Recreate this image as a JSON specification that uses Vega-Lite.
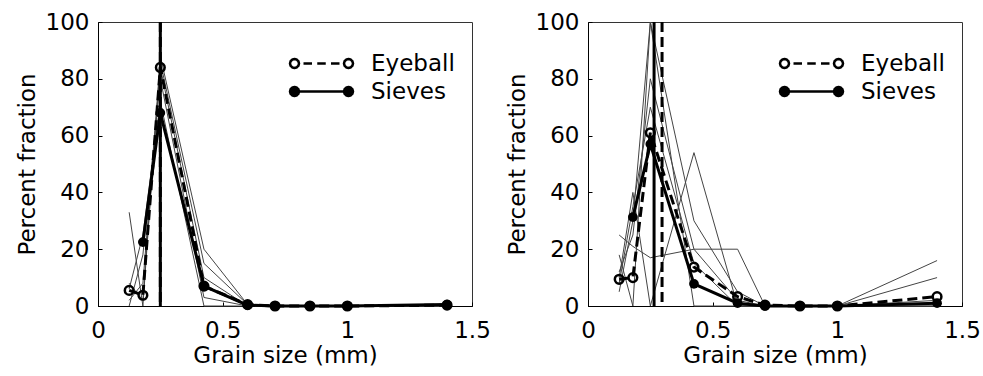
{
  "$schema": "https://vega.github.io/schema/vega-lite/v6.json",
  "background": "white",
  "padding": {"left": 15, "top": 10, "right": 5, "bottom": 5},
  "bounds": "flush",
  "spacing": 116,
  "resolve": {"scale": {"color": "independent"}, "legend": {"color": "independent"}},
  "datasets": {
    "main": [
      {"p":"A","series":"Eyeball","size":0.125,"pct":5.5},
      {"p":"A","series":"Eyeball","size":0.18,"pct":3.8},
      {"p":"A","series":"Eyeball","size":0.25,"pct":84},
      {"p":"A","series":"Eyeball","size":0.425,"pct":7},
      {"p":"A","series":"Eyeball","size":0.6,"pct":0.5},
      {"p":"A","series":"Eyeball","size":0.71,"pct":0},
      {"p":"A","series":"Eyeball","size":0.85,"pct":0},
      {"p":"A","series":"Eyeball","size":1.0,"pct":0},
      {"p":"A","series":"Eyeball","size":1.4,"pct":0.3},
      {"p":"A","series":"Sieves","size":0.18,"pct":22.5},
      {"p":"A","series":"Sieves","size":0.25,"pct":68},
      {"p":"A","series":"Sieves","size":0.425,"pct":7},
      {"p":"A","series":"Sieves","size":0.6,"pct":0.3},
      {"p":"A","series":"Sieves","size":0.71,"pct":0},
      {"p":"A","series":"Sieves","size":0.85,"pct":0},
      {"p":"A","series":"Sieves","size":1.0,"pct":0},
      {"p":"A","series":"Sieves","size":1.4,"pct":0.5},
      {"p":"B","series":"Eyeball","size":0.125,"pct":9.4},
      {"p":"B","series":"Eyeball","size":0.18,"pct":10},
      {"p":"B","series":"Eyeball","size":0.25,"pct":61},
      {"p":"B","series":"Eyeball","size":0.425,"pct":13.7},
      {"p":"B","series":"Eyeball","size":0.6,"pct":3.3},
      {"p":"B","series":"Eyeball","size":0.71,"pct":0.3},
      {"p":"B","series":"Eyeball","size":0.85,"pct":0},
      {"p":"B","series":"Eyeball","size":1.0,"pct":0},
      {"p":"B","series":"Eyeball","size":1.4,"pct":3.3},
      {"p":"B","series":"Sieves","size":0.18,"pct":31.3},
      {"p":"B","series":"Sieves","size":0.25,"pct":57},
      {"p":"B","series":"Sieves","size":0.425,"pct":7.8},
      {"p":"B","series":"Sieves","size":0.6,"pct":1},
      {"p":"B","series":"Sieves","size":0.71,"pct":0},
      {"p":"B","series":"Sieves","size":0.85,"pct":0},
      {"p":"B","series":"Sieves","size":1.0,"pct":0},
      {"p":"B","series":"Sieves","size":1.4,"pct":1}
    ],
    "thin": [
      {"p":"A","sample":"1","size":0.125,"pct":33},{"p":"A","sample":"1","size":0.18,"pct":0},{"p":"A","sample":"1","size":0.25,"pct":88},{"p":"A","sample":"1","size":0.425,"pct":20},{"p":"A","sample":"1","size":0.6,"pct":0.5},{"p":"A","sample":"1","size":0.71,"pct":0},{"p":"A","sample":"1","size":0.85,"pct":0},{"p":"A","sample":"1","size":1.0,"pct":0},{"p":"A","sample":"1","size":1.4,"pct":0},
      {"p":"A","sample":"2","size":0.125,"pct":8},{"p":"A","sample":"2","size":0.18,"pct":2},{"p":"A","sample":"2","size":0.25,"pct":86},{"p":"A","sample":"2","size":0.425,"pct":15},{"p":"A","sample":"2","size":0.6,"pct":0.5},{"p":"A","sample":"2","size":0.71,"pct":0},{"p":"A","sample":"2","size":0.85,"pct":0},{"p":"A","sample":"2","size":1.0,"pct":0},{"p":"A","sample":"2","size":1.4,"pct":0},
      {"p":"A","sample":"3","size":0.125,"pct":2},{"p":"A","sample":"3","size":0.18,"pct":8},{"p":"A","sample":"3","size":0.25,"pct":84},{"p":"A","sample":"3","size":0.425,"pct":10},{"p":"A","sample":"3","size":0.6,"pct":0},{"p":"A","sample":"3","size":0.71,"pct":0},{"p":"A","sample":"3","size":0.85,"pct":0},{"p":"A","sample":"3","size":1.0,"pct":0},{"p":"A","sample":"3","size":1.4,"pct":0},
      {"p":"A","sample":"4","size":0.125,"pct":0},{"p":"A","sample":"4","size":0.18,"pct":18},{"p":"A","sample":"4","size":0.25,"pct":80},{"p":"A","sample":"4","size":0.425,"pct":3},{"p":"A","sample":"4","size":0.6,"pct":0},{"p":"A","sample":"4","size":0.71,"pct":0},{"p":"A","sample":"4","size":0.85,"pct":0},{"p":"A","sample":"4","size":1.0,"pct":0},{"p":"A","sample":"4","size":1.4,"pct":0},
      {"p":"A","sample":"5","size":0.125,"pct":6},{"p":"A","sample":"5","size":0.18,"pct":25},{"p":"A","sample":"5","size":0.25,"pct":72},{"p":"A","sample":"5","size":0.425,"pct":0},{"p":"A","sample":"5","size":0.6,"pct":0},{"p":"A","sample":"5","size":0.71,"pct":0},{"p":"A","sample":"5","size":0.85,"pct":0},{"p":"A","sample":"5","size":1.0,"pct":0},{"p":"A","sample":"5","size":1.4,"pct":0},
      {"p":"B","sample":"1","size":0.125,"pct":25},{"p":"B","sample":"1","size":0.18,"pct":21},{"p":"B","sample":"1","size":0.25,"pct":17},{"p":"B","sample":"1","size":0.425,"pct":20},{"p":"B","sample":"1","size":0.6,"pct":20},{"p":"B","sample":"1","size":0.71,"pct":0},{"p":"B","sample":"1","size":0.85,"pct":0},{"p":"B","sample":"1","size":1.0,"pct":0},{"p":"B","sample":"1","size":1.4,"pct":0},
      {"p":"B","sample":"2","size":0.125,"pct":18},{"p":"B","sample":"2","size":0.18,"pct":0},{"p":"B","sample":"2","size":0.25,"pct":100},{"p":"B","sample":"2","size":0.425,"pct":0},{"p":"B","sample":"2","size":0.6,"pct":0},{"p":"B","sample":"2","size":0.71,"pct":0},{"p":"B","sample":"2","size":0.85,"pct":0},{"p":"B","sample":"2","size":1.0,"pct":0},{"p":"B","sample":"2","size":1.4,"pct":16},
      {"p":"B","sample":"3","size":0.125,"pct":10},{"p":"B","sample":"3","size":0.18,"pct":40},{"p":"B","sample":"3","size":0.25,"pct":0},{"p":"B","sample":"3","size":0.425,"pct":54},{"p":"B","sample":"3","size":0.6,"pct":0},{"p":"B","sample":"3","size":0.71,"pct":0},{"p":"B","sample":"3","size":0.85,"pct":0},{"p":"B","sample":"3","size":1.0,"pct":0},{"p":"B","sample":"3","size":1.4,"pct":10},
      {"p":"B","sample":"4","size":0.125,"pct":5},{"p":"B","sample":"4","size":0.18,"pct":30},{"p":"B","sample":"4","size":0.25,"pct":100},{"p":"B","sample":"4","size":0.425,"pct":30},{"p":"B","sample":"4","size":0.6,"pct":5},{"p":"B","sample":"4","size":0.71,"pct":0},{"p":"B","sample":"4","size":0.85,"pct":0},{"p":"B","sample":"4","size":1.0,"pct":0},{"p":"B","sample":"4","size":1.4,"pct":2},
      {"p":"B","sample":"5","size":0.125,"pct":8},{"p":"B","sample":"5","size":0.18,"pct":35},{"p":"B","sample":"5","size":0.25,"pct":70},{"p":"B","sample":"5","size":0.425,"pct":15},{"p":"B","sample":"5","size":0.6,"pct":0},{"p":"B","sample":"5","size":0.71,"pct":0},{"p":"B","sample":"5","size":0.85,"pct":0},{"p":"B","sample":"5","size":1.0,"pct":0},{"p":"B","sample":"5","size":1.4,"pct":1},
      {"p":"B","sample":"6","size":0.125,"pct":12},{"p":"B","sample":"6","size":0.18,"pct":25},{"p":"B","sample":"6","size":0.25,"pct":80},{"p":"B","sample":"6","size":0.425,"pct":20},{"p":"B","sample":"6","size":0.6,"pct":2},{"p":"B","sample":"6","size":0.71,"pct":0},{"p":"B","sample":"6","size":0.85,"pct":0},{"p":"B","sample":"6","size":1.0,"pct":0},{"p":"B","sample":"6","size":1.4,"pct":0}
    ],
    "d50": [
      {"p":"A","series":"Eyeball","d50":0.25},
      {"p":"A","series":"Sieves","d50":0.25},
      {"p":"B","series":"Eyeball","d50":0.297},
      {"p":"B","series":"Sieves","d50":0.265}
    ]
  },
  "hconcat": [
    {
      "width": 374, "height": 284,
      "layer": [
        {"data":{"name":"thin"},"transform":[{"filter":"datum.p === 'A'"}],
         "mark":{"type":"line","color":"#444","strokeWidth":1},
         "encoding":{
           "x":{"field":"size","type":"quantitative","scale":{"domain":[0,1.5],"nice":false,"zero":false},"axis":{"values":[0,0.5,1,1.5],"format":"~g","title":"Grain size (mm)","labelPadding":17,"titlePadding":2}},
           "y":{"field":"pct","type":"quantitative","scale":{"domain":[0,100],"nice":false},"axis":{"values":[0,20,40,60,80,100],"title":"Percent fraction","labelPadding":13,"titlePadding":6}},
           "detail":{"field":"sample"}}},
        {"data":{"name":"main"},"transform":[{"filter":"datum.p === 'A' && datum.series === 'Eyeball'"}],
         "mark":{"type":"line","strokeWidth":3,"strokeDash":[10,5]},
         "encoding":{
           "x":{"field":"size","type":"quantitative","title":"Grain size (mm)"},
           "y":{"field":"pct","type":"quantitative","title":"Percent fraction"},
           "color":{"field":"series","type":"nominal","scale":{"domain":["Eyeball","Sieves"],"range":["black","black"]},
             "legend":{"title":null,"orient":"none","legendX":212,"legendY":30,"padding":0,"symbolSize":100,"rowPadding":4,"labelOffset":38,"labelFont":"DejaVu Sans","labelFontSize":23,"labelColor":"black","symbolStrokeColor":"black","symbolStrokeWidth":2.5,"symbolDash":[1,0],
               "symbolFillColor":{"expr":"datum.value === 'Eyeball' ? 'white' : 'black'"},
               "symbolType":{"expr":"datum.value === 'Eyeball' ? 'M-4.5,0L-4.6206,0.45L-4.95,0.7794L-5.4,0.9L-5.85,0.7794L-6.1794,0.45L-6.3,0L-6.1794,-0.45L-5.85,-0.7794L-5.4,-0.9L-4.95,-0.7794L-4.6206,-0.45ZM-3.6,0L-1.9,0M-0.85,0L0.85,0M1.9,0L3.6,0M6.3,0L6.1794,0.45L5.85,0.7794L5.4,0.9L4.95,0.7794L4.6206,0.45L4.5,0L4.6206,-0.45L4.95,-0.7794L5.4,-0.9L5.85,-0.7794L6.1794,-0.45Z' : 'M-4.5,0L-4.6206,0.45L-4.95,0.7794L-5.4,0.9L-5.85,0.7794L-6.1794,0.45L-6.3,0L-6.1794,-0.45L-5.85,-0.7794L-5.4,-0.9L-4.95,-0.7794L-4.6206,-0.45ZM-4.5,0L4.5,0M6.3,0L6.1794,0.45L5.85,0.7794L5.4,0.9L4.95,0.7794L4.6206,0.45L4.5,0L4.6206,-0.45L4.95,-0.7794L5.4,-0.9L5.85,-0.7794L6.1794,-0.45Z'"}}}}},
        {"data":{"name":"main"},"transform":[{"filter":"datum.p === 'A' && datum.series === 'Sieves'"}],
         "mark":{"type":"line","strokeWidth":3},
         "encoding":{
           "x":{"field":"size","type":"quantitative","title":"Grain size (mm)"},
           "y":{"field":"pct","type":"quantitative","title":"Percent fraction"},
           "color":{"field":"series","type":"nominal","scale":{"domain":["Eyeball","Sieves"],"range":["black","black"]}}}},
        {"data":{"name":"main"},"transform":[{"filter":"datum.p === 'A' && datum.series === 'Eyeball'"}],
         "mark":{"type":"point","filled":false,"stroke":"black","strokeWidth":2.5,"size":75,"opacity":1},
         "encoding":{"x":{"field":"size","type":"quantitative","title":"Grain size (mm)"},"y":{"field":"pct","type":"quantitative","title":"Percent fraction"}}},
        {"data":{"name":"main"},"transform":[{"filter":"datum.p === 'A' && datum.series === 'Sieves'"}],
         "mark":{"type":"circle","fill":"black","size":95,"opacity":1},
         "encoding":{"x":{"field":"size","type":"quantitative","title":"Grain size (mm)"},"y":{"field":"pct","type":"quantitative","title":"Percent fraction"}}},
        {"data":{"name":"d50"},"transform":[{"filter":"datum.p === 'A' && datum.series === 'Eyeball'"}],
         "mark":{"type":"rule","stroke":"black","strokeWidth":3,"strokeDash":[10,5]},
         "encoding":{"x":{"field":"d50","type":"quantitative","title":"Grain size (mm)"}}},
        {"data":{"name":"d50"},"transform":[{"filter":"datum.p === 'A' && datum.series === 'Sieves'"}],
         "mark":{"type":"rule","stroke":"black","strokeWidth":3},
         "encoding":{"x":{"field":"d50","type":"quantitative","title":"Grain size (mm)"}}}
      ]
    },
    {
      "width": 374, "height": 284,
      "layer": [
        {"data":{"name":"thin"},"transform":[{"filter":"datum.p === 'B'"}],
         "mark":{"type":"line","color":"#444","strokeWidth":1},
         "encoding":{
           "x":{"field":"size","type":"quantitative","scale":{"domain":[0,1.5],"nice":false,"zero":false},"axis":{"values":[0,0.5,1,1.5],"format":"~g","title":"Grain size (mm)","labelPadding":17,"titlePadding":2}},
           "y":{"field":"pct","type":"quantitative","scale":{"domain":[0,100],"nice":false},"axis":{"values":[0,20,40,60,80,100],"title":"Percent fraction","labelPadding":13,"titlePadding":6}},
           "detail":{"field":"sample"}}},
        {"data":{"name":"main"},"transform":[{"filter":"datum.p === 'B' && datum.series === 'Eyeball'"}],
         "mark":{"type":"line","strokeWidth":3,"strokeDash":[10,5]},
         "encoding":{
           "x":{"field":"size","type":"quantitative","title":"Grain size (mm)"},
           "y":{"field":"pct","type":"quantitative","title":"Percent fraction"},
           "color":{"field":"series","type":"nominal","scale":{"domain":["Eyeball","Sieves"],"range":["black","black"]},
             "legend":{"title":null,"orient":"none","legendX":212,"legendY":30,"padding":0,"symbolSize":100,"rowPadding":4,"labelOffset":38,"labelFont":"DejaVu Sans","labelFontSize":23,"labelColor":"black","symbolStrokeColor":"black","symbolStrokeWidth":2.5,"symbolDash":[1,0],
               "symbolFillColor":{"expr":"datum.value === 'Eyeball' ? 'white' : 'black'"},
               "symbolType":{"expr":"datum.value === 'Eyeball' ? 'M-4.5,0L-4.6206,0.45L-4.95,0.7794L-5.4,0.9L-5.85,0.7794L-6.1794,0.45L-6.3,0L-6.1794,-0.45L-5.85,-0.7794L-5.4,-0.9L-4.95,-0.7794L-4.6206,-0.45ZM-3.6,0L-1.9,0M-0.85,0L0.85,0M1.9,0L3.6,0M6.3,0L6.1794,0.45L5.85,0.7794L5.4,0.9L4.95,0.7794L4.6206,0.45L4.5,0L4.6206,-0.45L4.95,-0.7794L5.4,-0.9L5.85,-0.7794L6.1794,-0.45Z' : 'M-4.5,0L-4.6206,0.45L-4.95,0.7794L-5.4,0.9L-5.85,0.7794L-6.1794,0.45L-6.3,0L-6.1794,-0.45L-5.85,-0.7794L-5.4,-0.9L-4.95,-0.7794L-4.6206,-0.45ZM-4.5,0L4.5,0M6.3,0L6.1794,0.45L5.85,0.7794L5.4,0.9L4.95,0.7794L4.6206,0.45L4.5,0L4.6206,-0.45L4.95,-0.7794L5.4,-0.9L5.85,-0.7794L6.1794,-0.45Z'"}}}}},
        {"data":{"name":"main"},"transform":[{"filter":"datum.p === 'B' && datum.series === 'Sieves'"}],
         "mark":{"type":"line","strokeWidth":3},
         "encoding":{
           "x":{"field":"size","type":"quantitative","title":"Grain size (mm)"},
           "y":{"field":"pct","type":"quantitative","title":"Percent fraction"},
           "color":{"field":"series","type":"nominal","scale":{"domain":["Eyeball","Sieves"],"range":["black","black"]}}}},
        {"data":{"name":"main"},"transform":[{"filter":"datum.p === 'B' && datum.series === 'Eyeball'"}],
         "mark":{"type":"point","filled":false,"stroke":"black","strokeWidth":2.5,"size":75,"opacity":1},
         "encoding":{"x":{"field":"size","type":"quantitative","title":"Grain size (mm)"},"y":{"field":"pct","type":"quantitative","title":"Percent fraction"}}},
        {"data":{"name":"main"},"transform":[{"filter":"datum.p === 'B' && datum.series === 'Sieves'"}],
         "mark":{"type":"circle","fill":"black","size":95,"opacity":1},
         "encoding":{"x":{"field":"size","type":"quantitative","title":"Grain size (mm)"},"y":{"field":"pct","type":"quantitative","title":"Percent fraction"}}},
        {"data":{"name":"d50"},"transform":[{"filter":"datum.p === 'B' && datum.series === 'Eyeball'"}],
         "mark":{"type":"rule","stroke":"black","strokeWidth":3,"strokeDash":[10,5]},
         "encoding":{"x":{"field":"d50","type":"quantitative","title":"Grain size (mm)"}}},
        {"data":{"name":"d50"},"transform":[{"filter":"datum.p === 'B' && datum.series === 'Sieves'"}],
         "mark":{"type":"rule","stroke":"black","strokeWidth":3},
         "encoding":{"x":{"field":"d50","type":"quantitative","title":"Grain size (mm)"}}}
      ]
    }
  ],
  "config": {
    "font": "DejaVu Sans",
    "view": {"stroke": "#333", "strokeWidth": 1},
    "axis": {
      "grid": false,
      "domainColor": "black",
      "domainWidth": 1,
      "tickColor": "black",
      "tickSize": -4,
      "labelFont": "DejaVu Sans",
      "labelFontSize": 23,
      "labelColor": "black",
      "titleFont": "DejaVu Sans",
      "titleFontSize": 23,
      "titleFontWeight": "normal",
      "titleColor": "black",
      "labelOverlap": false,
      "labelFlush": false
    }
  }
}
